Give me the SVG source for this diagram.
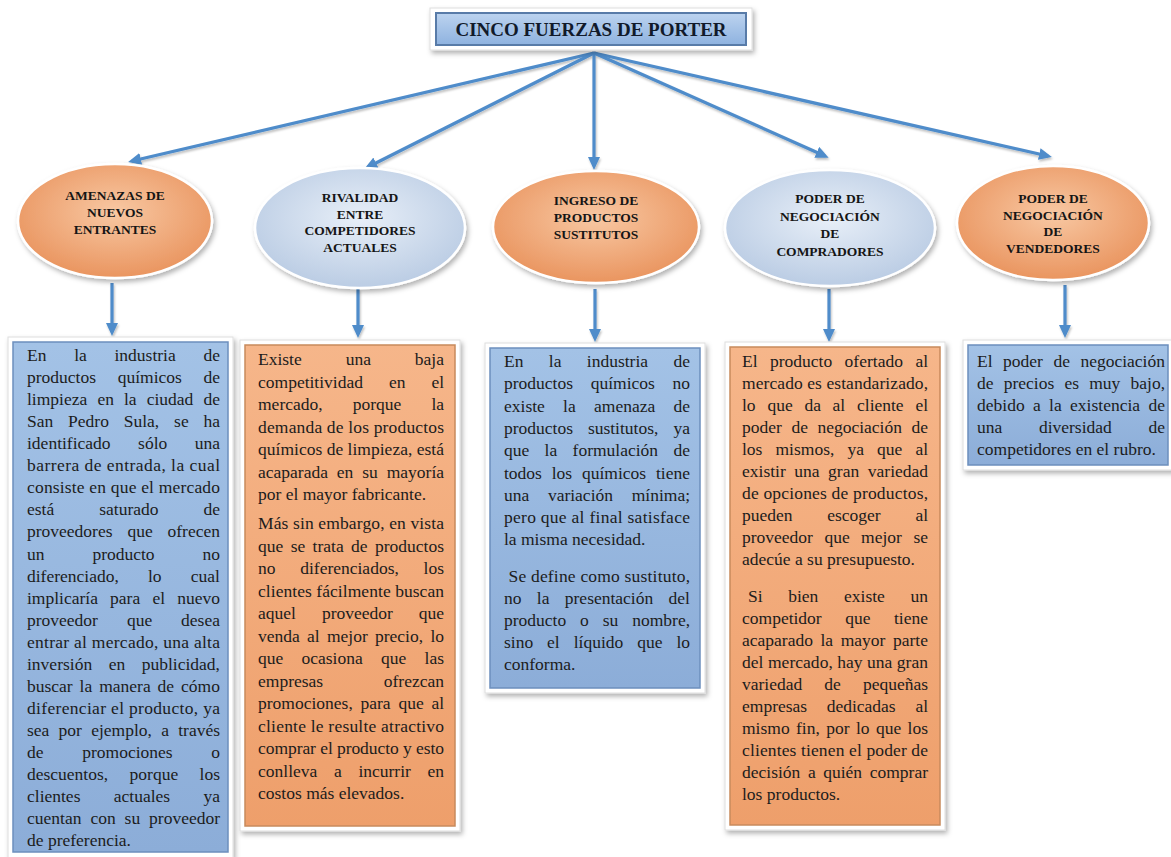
<svg xmlns="http://www.w3.org/2000/svg" width="1171" height="857" viewBox="0 0 1171 857">
<defs>
<style>
.t{font-family:"Liberation Serif","Times New Roman",serif;font-size:17.5px;fill:#1c1c1c}
.h{font-family:"Liberation Serif","Times New Roman",serif;font-size:13.5px;font-weight:bold;fill:#151515;text-anchor:middle}
.ttl{font-family:"Liberation Serif","Times New Roman",serif;font-size:19px;font-weight:bold;fill:#111a2a;text-anchor:middle}
.frame{fill:#ffffff;stroke:#dedede;stroke-width:1}
.bb{fill:url(#gBlueBox);stroke:#6c8fbd;stroke-width:1.5}
.ob{fill:url(#gOrangeBox);stroke:#c88a5c;stroke-width:1.5}
.oe{fill:url(#gOrangeEll);stroke:#ffffff;stroke-width:2.5}
.be{fill:url(#gBlueEll);stroke:#ffffff;stroke-width:2.5}
.c{stroke:#4f8cca;stroke-width:3.2;fill:none;marker-end:url(#ah)}
</style>
<linearGradient id="gBlueBox" x1="0" y1="0" x2="0" y2="1"><stop offset="0" stop-color="#a3c2e6"/><stop offset="1" stop-color="#8cadd8"/></linearGradient>
<linearGradient id="gOrangeBox" x1="0" y1="0" x2="0" y2="1"><stop offset="0" stop-color="#f6b68a"/><stop offset="1" stop-color="#ee9f6b"/></linearGradient>
<linearGradient id="gTitle" x1="0" y1="0" x2="0" y2="1"><stop offset="0" stop-color="#bcd3ef"/><stop offset="1" stop-color="#8eb2df"/></linearGradient>
<radialGradient id="gOrangeEll" cx="0.5" cy="0.42" r="0.6"><stop offset="0" stop-color="#f8c8a3"/><stop offset="1" stop-color="#e9935d"/></radialGradient>
<radialGradient id="gBlueEll" cx="0.5" cy="0.42" r="0.6"><stop offset="0" stop-color="#e8eff8"/><stop offset="1" stop-color="#b9cbe3"/></radialGradient>
<filter id="sh" x="-10%" y="-10%" width="125%" height="130%"><feDropShadow dx="2" dy="3" stdDeviation="2.5" flood-color="#000" flood-opacity="0.3"/></filter>
<filter id="lsh" x="-10%" y="-10%" width="120%" height="130%"><feDropShadow dx="1" dy="2" stdDeviation="1.2" flood-color="#000" flood-opacity="0.25"/></filter>
<marker id="ah" markerUnits="userSpaceOnUse" markerWidth="14" markerHeight="12" refX="9" refY="6" orient="auto"><path d="M0,0 L13,6 L0,12 z" fill="#4f8cca"/></marker>
</defs>
<rect width="1171" height="857" fill="#ffffff"/>

<g id="connectors" filter="url(#lsh)">
<line class="c" x1="594" y1="53" x2="132" y2="161"/>
<line class="c" x1="594" y1="53" x2="368" y2="167"/>
<line class="c" x1="594" y1="53" x2="594" y2="166"/>
<line class="c" x1="594" y1="53" x2="825" y2="156"/>
<line class="c" x1="594" y1="53" x2="1048" y2="156"/>
<line class="c" x1="112" y1="283" x2="112" y2="332"/>
<line class="c" x1="358" y1="289" x2="358" y2="334"/>
<line class="c" x1="595" y1="289" x2="595" y2="338"/>
<line class="c" x1="829" y1="289" x2="829" y2="338"/>
<line class="c" x1="1065" y1="285" x2="1065" y2="334"/>
</g>

<g id="node-title">
<rect class="frame" x="430" y="8" width="322" height="42" filter="url(#sh)"/>
<rect x="436" y="13" width="310" height="32" fill="url(#gTitle)" stroke="#587ba8" stroke-width="2"/>
<text class="ttl" x="591" y="36">CINCO FUERZAS DE PORTER</text>
</g>

<g id="node-amenazas">
<ellipse class="oe" cx="115" cy="221" rx="97" ry="57" filter="url(#sh)"/>
<text class="h" x="115" y="200">AMENAZAS DE</text>
<text class="h" x="115" y="217">NUEVOS</text>
<text class="h" x="115" y="234">ENTRANTES</text>
</g>
<g id="node-rivalidad">
<ellipse class="be" cx="360" cy="228" rx="105" ry="60" filter="url(#sh)"/>
<text class="h" x="360" y="202">RIVALIDAD</text>
<text class="h" x="360" y="218.5">ENTRE</text>
<text class="h" x="360" y="235">COMPETIDORES</text>
<text class="h" x="360" y="251.5">ACTUALES</text>
</g>
<g id="node-ingreso">
<ellipse class="oe" cx="596" cy="227" rx="103" ry="56" filter="url(#sh)"/>
<text class="h" x="596" y="205">INGRESO DE</text>
<text class="h" x="596" y="222">PRODUCTOS</text>
<text class="h" x="596" y="239">SUSTITUTOS</text>
</g>
<g id="node-compradores">
<ellipse class="be" cx="830" cy="228" rx="105" ry="58" filter="url(#sh)"/>
<text class="h" x="830" y="203">PODER DE</text>
<text class="h" x="830" y="220.5">NEGOCIACIÓN</text>
<text class="h" x="830" y="238">DE</text>
<text class="h" x="830" y="255.5">COMPRADORES</text>
</g>
<g id="node-vendedores">
<ellipse class="oe" cx="1053" cy="223" rx="96" ry="57" filter="url(#sh)"/>
<text class="h" x="1053" y="203">PODER DE</text>
<text class="h" x="1053" y="219.5">NEGOCIACIÓN</text>
<text class="h" x="1053" y="236">DE</text>
<text class="h" x="1053" y="252.5">VENDEDORES</text>
</g>

<g id="node-texto-amenazas">
<rect class="frame" x="8" y="337" width="225" height="521" filter="url(#sh)"/>
<rect class="bb" x="13" y="342" width="215" height="510"/>
<text class="t" y="361"><tspan x="27">En</tspan><tspan x="74.2">la</tspan><tspan x="114.5">industria</tspan><tspan x="203.5">de</tspan></text>
<text class="t" y="383.1"><tspan x="27">productos</tspan><tspan x="117.7">químicos</tspan><tspan x="203.5">de</tspan></text>
<text class="t" y="405.1"><tspan x="27">limpieza</tspan><tspan x="97.4">en</tspan><tspan x="124">la</tspan><tspan x="146.7">ciudad</tspan><tspan x="203.5">de</tspan></text>
<text class="t" y="427.2"><tspan x="27">San</tspan><tspan x="68.1">Pedro</tspan><tspan x="123.7">Sula,</tspan><tspan x="174.1">se</tspan><tspan x="203.5">ha</tspan></text>
<text class="t" y="449.2"><tspan x="27">identificado</tspan><tspan x="138.1">sólo</tspan><tspan x="194.7">una</tspan></text>
<text class="t" x="27" y="471.3" textLength="193" lengthAdjust="spacing">barrera de entrada, la cual</text>
<text class="t" x="27" y="493.3" textLength="193" lengthAdjust="spacing">consiste en que el mercado</text>
<text class="t" y="515.4"><tspan x="27">está</tspan><tspan x="99.2">saturado</tspan><tspan x="203.5">de</tspan></text>
<text class="t" y="537.4"><tspan x="27">proveedores</tspan><tspan x="127.4">que</tspan><tspan x="167.5">ofrecen</tspan></text>
<text class="t" y="559.5"><tspan x="27">un</tspan><tspan x="92.4">producto</tspan><tspan x="202.5">no</tspan></text>
<text class="t" y="581.5"><tspan x="27">diferenciado,</tspan><tspan x="148">lo</tspan><tspan x="190.8">cual</tspan></text>
<text class="t" y="603.6"><tspan x="27">implicaría</tspan><tspan x="110.1">para</tspan><tspan x="152.4">el</tspan><tspan x="177.2">nuevo</tspan></text>
<text class="t" y="625.6"><tspan x="27">proveedor</tspan><tspan x="126.9">que</tspan><tspan x="181.1">desea</tspan></text>
<text class="t" x="27" y="647.7" textLength="193" lengthAdjust="spacing">entrar al mercado, una alta</text>
<text class="t" y="669.7"><tspan x="27">inversión</tspan><tspan x="108.7">en</tspan><tspan x="141.7">publicidad,</tspan></text>
<text class="t" y="691.8"><tspan x="27">buscar</tspan><tspan x="79.6">la</tspan><tspan x="99.2">manera</tspan><tspan x="157.6">de</tspan><tspan x="181.1">cómo</tspan></text>
<text class="t" x="27" y="713.8" textLength="193" lengthAdjust="spacing">diferenciar el producto, ya</text>
<text class="t" y="735.9"><tspan x="27">sea</tspan><tspan x="58.6">por</tspan><tspan x="91.2">ejemplo,</tspan><tspan x="161.2">a</tspan><tspan x="178.2">través</tspan></text>
<text class="t" y="757.9"><tspan x="27">de</tspan><tspan x="82.2">promociones</tspan><tspan x="211.3">o</tspan></text>
<text class="t" y="780"><tspan x="27">descuentos,</tspan><tspan x="129.6">porque</tspan><tspan x="199.6">los</tspan></text>
<text class="t" y="802"><tspan x="27">clientes</tspan><tspan x="113.8">actuales</tspan><tspan x="203.5">ya</tspan></text>
<text class="t" y="824.1"><tspan x="27">cuentan</tspan><tspan x="90.4">con</tspan><tspan x="124.6">su</tspan><tspan x="149.1">proveedor</tspan></text>
<text class="t" x="27" y="846.1">de preferencia.</text>
</g>

<g id="node-texto-rivalidad">
<rect class="frame" x="240" y="340" width="220" height="491" filter="url(#sh)"/>
<rect class="ob" x="245" y="345" width="210" height="481"/>
<text class="t" y="365"><tspan x="258">Existe</tspan><tspan x="345.7">una</tspan><tspan x="414.8">baja</tspan></text>
<text class="t" y="387.5"><tspan x="258">competitividad</tspan><tspan x="388.9">en</tspan><tspan x="431.4">el</tspan></text>
<text class="t" y="410"><tspan x="258">mercado,</tspan><tspan x="352.7">porque</tspan><tspan x="431.4">la</tspan></text>
<text class="t" x="258" y="432.5" textLength="186" lengthAdjust="spacing">demanda de los productos</text>
<text class="t" x="258" y="455" textLength="186" lengthAdjust="spacing">químicos de limpieza, está</text>
<text class="t" y="477.5"><tspan x="258">acaparada</tspan><tspan x="336.8">en</tspan><tspan x="362.2">su</tspan><tspan x="386.7">mayoría</tspan></text>
<text class="t" x="258" y="500">por el mayor fabricante.</text>
<text class="t" x="258" y="529" textLength="186" lengthAdjust="spacing">Más sin embargo, en vista</text>
<text class="t" y="551.5"><tspan x="258">que</tspan><tspan x="290.7">se</tspan><tspan x="312.6">trata</tspan><tspan x="351.1">de</tspan><tspan x="375">productos</tspan></text>
<text class="t" y="574"><tspan x="258">no</tspan><tspan x="300.2">diferenciados,</tspan><tspan x="423.6">los</tspan></text>
<text class="t" x="258" y="596.5" textLength="186" lengthAdjust="spacing">clientes fácilmente buscan</text>
<text class="t" y="619"><tspan x="258">aquel</tspan><tspan x="321.9">proveedor</tspan><tspan x="418.7">que</tspan></text>
<text class="t" y="641.5"><tspan x="258">venda</tspan><tspan x="307">al</tspan><tspan x="326.9">mejor</tspan><tspan x="375">precio,</tspan><tspan x="430.4">lo</tspan></text>
<text class="t" y="664"><tspan x="258">que</tspan><tspan x="301.5">ocasiona</tspan><tspan x="381">que</tspan><tspan x="424.6">las</tspan></text>
<text class="t" y="686.5"><tspan x="258">empresas</tspan><tspan x="383.8">ofrezcan</tspan></text>
<text class="t" y="709"><tspan x="258">promociones,</tspan><tspan x="360.5">para</tspan><tspan x="398.4">que</tspan><tspan x="431.4">al</tspan></text>
<text class="t" x="258" y="731.5" textLength="186" lengthAdjust="spacing">cliente le resulte atractivo</text>
<text class="t" x="258" y="754" textLength="186" lengthAdjust="spacing">comprar el producto y esto</text>
<text class="t" y="776.5"><tspan x="258">conlleva</tspan><tspan x="333.9">a</tspan><tspan x="358.4">incurrir</tspan><tspan x="427.5">en</tspan></text>
<text class="t" x="258" y="799">costos más elevados.</text>
</g>

<g id="node-texto-ingreso">
<rect class="frame" x="485" y="343" width="220" height="350" filter="url(#sh)"/>
<rect class="bb" x="490" y="348" width="210" height="340"/>
<text class="t" y="367"><tspan x="504">En</tspan><tspan x="548.8">la</tspan><tspan x="586.8">industria</tspan><tspan x="673.5">de</tspan></text>
<text class="t" y="389.3"><tspan x="504">productos</tspan><tspan x="590.7">químicos</tspan><tspan x="672.5">no</tspan></text>
<text class="t" y="411.6"><tspan x="504">existe</tspan><tspan x="563.1">la</tspan><tspan x="594">amenaza</tspan><tspan x="673.5">de</tspan></text>
<text class="t" y="433.9"><tspan x="504">productos</tspan><tspan x="587.9">sustitutos,</tspan><tspan x="673.5">ya</tspan></text>
<text class="t" y="456.2"><tspan x="504">que</tspan><tspan x="544.6">la</tspan><tspan x="572.6">formulación</tspan><tspan x="673.5">de</tspan></text>
<text class="t" y="478.5"><tspan x="504">todos</tspan><tspan x="551.7">los</tspan><tspan x="582">químicos</tspan><tspan x="656">tiene</tspan></text>
<text class="t" y="500.8"><tspan x="504">una</tspan><tspan x="547.9">variación</tspan><tspan x="631.7">mínima;</tspan></text>
<text class="t" x="504" y="523.1" textLength="186" lengthAdjust="spacing">pero que al final satisface</text>
<text class="t" x="504" y="545.4">la misma necesidad.</text>
<text class="t" x="508.5" y="582" textLength="181.5" lengthAdjust="spacing">Se define como sustituto,</text>
<text class="t" y="604"><tspan x="504">no</tspan><tspan x="536.8">la</tspan><tspan x="564.8">presentación</tspan><tspan x="668.6">del</tspan></text>
<text class="t" y="626"><tspan x="504">producto</tspan><tspan x="580.1">o</tspan><tspan x="602.7">su</tspan><tspan x="632.2">nombre,</tspan></text>
<text class="t" y="648"><tspan x="504">sino</tspan><tspan x="547.1">el</tspan><tspan x="573.7">líquido</tspan><tspan x="637.2">que</tspan><tspan x="676.4">lo</tspan></text>
<text class="t" x="504" y="670">conforma.</text>
</g>

<g id="node-texto-compradores">
<rect class="frame" x="725" y="342" width="220" height="488" filter="url(#sh)"/>
<rect class="ob" x="730" y="347" width="210" height="478"/>
<text class="t" y="367"><tspan x="742">El</tspan><tspan x="770">producto</tspan><tspan x="844.6">ofertado</tspan><tspan x="915.4">al</tspan></text>
<text class="t" x="742" y="389" textLength="186" lengthAdjust="spacing">mercado es estandarizado,</text>
<text class="t" y="411"><tspan x="742">lo</tspan><tspan x="767.4">que</tspan><tspan x="804.4">da</tspan><tspan x="832.6">al</tspan><tspan x="857">cliente</tspan><tspan x="915.4">el</tspan></text>
<text class="t" y="433"><tspan x="742">poder</tspan><tspan x="791.4">de</tspan><tspan x="817.4">negociación</tspan><tspan x="911.5">de</tspan></text>
<text class="t" y="455"><tspan x="742">los</tspan><tspan x="775.5">mismos,</tspan><tspan x="847.4">ya</tspan><tspan x="877">que</tspan><tspan x="915.4">al</tspan></text>
<text class="t" y="477"><tspan x="742">existir</tspan><tspan x="794.3">una</tspan><tspan x="828.1">gran</tspan><tspan x="867.8">variedad</tspan></text>
<text class="t" x="742" y="499" textLength="186" lengthAdjust="spacing">de opciones de productos,</text>
<text class="t" y="521"><tspan x="742">pueden</tspan><tspan x="827.2">escoger</tspan><tspan x="915.4">al</tspan></text>
<text class="t" y="543"><tspan x="742">proveedor</tspan><tspan x="824.4">que</tspan><tspan x="861.1">mejor</tspan><tspan x="913.4">se</tspan></text>
<text class="t" x="742" y="565">adecúe a su presupuesto.</text>
<text class="t" y="602"><tspan x="748">Si</tspan><tspan x="788.2">bien</tspan><tspan x="844">existe</tspan><tspan x="910.5">un</tspan></text>
<text class="t" y="624"><tspan x="742">competidor</tspan><tspan x="845.2">que</tspan><tspan x="894">tiene</tspan></text>
<text class="t" y="646"><tspan x="742">acaparado</tspan><tspan x="820.5">la</tspan><tspan x="840.7">mayor</tspan><tspan x="893">parte</tspan></text>
<text class="t" x="742" y="668" textLength="186" lengthAdjust="spacing">del mercado, hay una gran</text>
<text class="t" y="690"><tspan x="742">variedad</tspan><tspan x="824.3">de</tspan><tspan x="862.9">pequeñas</tspan></text>
<text class="t" y="712"><tspan x="742">empresas</tspan><tspan x="826.7">dedicadas</tspan><tspan x="915.4">al</tspan></text>
<text class="t" y="734"><tspan x="742">mismo</tspan><tspan x="796">fin,</tspan><tspan x="826.2">por</tspan><tspan x="855.9">lo</tspan><tspan x="875.9">que</tspan><tspan x="907.6">los</tspan></text>
<text class="t" x="742" y="756" textLength="186" lengthAdjust="spacing">clientes tienen el poder de</text>
<text class="t" y="778"><tspan x="742">decisión</tspan><tspan x="807.9">a</tspan><tspan x="823.2">quién</tspan><tspan x="869.7">comprar</tspan></text>
<text class="t" x="742" y="800">los productos.</text>
</g>

<g id="node-texto-vendedores">
<rect class="frame" x="963" y="340" width="212" height="130" filter="url(#sh)"/>
<rect class="bb" x="968" y="345" width="200" height="120"/>
<text class="t" y="367"><tspan x="977">El</tspan><tspan x="1003.1">poder</tspan><tspan x="1053.4">de</tspan><tspan x="1080.4">negociación</tspan></text>
<text class="t" y="389"><tspan x="977">de</tspan><tspan x="1003.7">precios</tspan><tspan x="1064.4">es</tspan><tspan x="1089.2">muy</tspan><tspan x="1130.5">bajo,</tspan></text>
<text class="t" y="411"><tspan x="977">debido</tspan><tspan x="1033">a</tspan><tspan x="1049.1">la</tspan><tspan x="1070.1">existencia</tspan><tspan x="1148.5">de</tspan></text>
<text class="t" y="433"><tspan x="977">una</tspan><tspan x="1038.9">diversidad</tspan><tspan x="1148.5">de</tspan></text>
<text class="t" x="977" y="455">competidores en el rubro.</text>
</g>
</svg>
